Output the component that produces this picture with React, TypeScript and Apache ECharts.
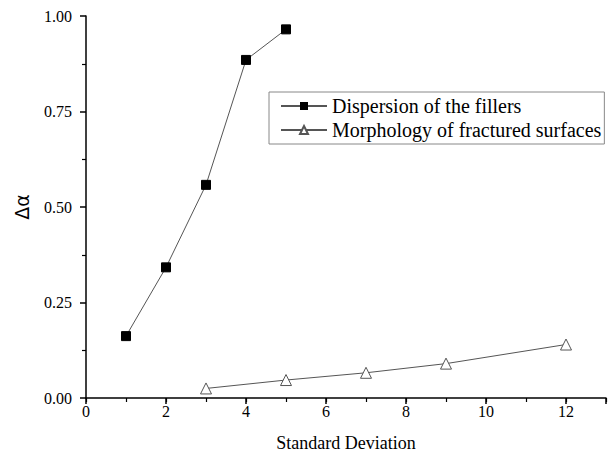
import React, { useEffect, useRef } from "react";
import * as echarts from "echarts";

const dispersionX = [1, 2, 3, 4, 5];
const dispersionY = [0.162, 0.342, 0.558, 0.885, 0.965];
const morphologyX = [3, 5, 7, 9, 12];
const morphologyY = [0.025, 0.047, 0.066, 0.09, 0.14];
const seriesNames = ["Dispersion of the fillers", "Morphology of fractured surfaces"];
const xTitle = "Standard Deviation";
const yTitle = "Δα";

const FONT = "Liberation Serif";

export default function App() {
  const ref = useRef<HTMLDivElement>(null);
  useEffect(() => {
    if (!ref.current) return;
    const chart = echarts.init(ref.current, undefined, { renderer: "svg" });
    chart.setOption({
      animation: false,
      backgroundColor: "#fff",
      textStyle: { fontFamily: FONT },
      grid: { left: 86, right: 7, top: 16, bottom: 60, containLabel: false },
      legend: {
        orient: "vertical",
        left: 269,
        top: 92,
        padding: [4, 3, 4, 11],
        itemGap: 4,
        itemWidth: 46,
        itemHeight: 10,
        borderColor: "#888",
        borderWidth: 1,
        textStyle: { fontFamily: FONT, fontSize: 20, color: "#000" },
        data: seriesNames,
      },
      xAxis: [
        {
          type: "value",
          min: 0,
          max: 13,
          interval: 2,
          axisLine: { show: true, lineStyle: { color: "#000", width: 1.5 } },
          splitLine: { show: false },
          axisTick: { show: true, length: 6, lineStyle: { color: "#000", width: 1.5 } },
          axisLabel: {
            margin: 5,
            fontFamily: FONT,
            fontSize: 16,
            color: "#000",
            formatter: (v: number) => (v === 13 ? "" : String(v)),
          },
          name: xTitle,
          nameLocation: "middle",
          nameGap: 36,
          nameTextStyle: { fontFamily: FONT, fontSize: 18, color: "#000" },
        },
        {
          type: "value",
          min: 0,
          max: 13,
          interval: 1,
          position: "bottom",
          axisLine: { show: false },
          splitLine: { show: false },
          axisTick: { show: true, length: 4, lineStyle: { color: "#000", width: 1.2 } },
          axisLabel: { show: false },
        },
      ],
      yAxis: {
        type: "value",
        min: 0,
        max: 1,
        interval: 0.25,
        axisLine: { show: true, lineStyle: { color: "#000", width: 1.5 } },
        splitLine: { show: false },
        axisTick: { show: true, length: 6, lineStyle: { color: "#000", width: 1.5 } },
        minorTick: { show: true, splitNumber: 2, length: 4, lineStyle: { color: "#000", width: 1.2 } },
        axisLabel: {
          margin: 14,
          fontFamily: FONT,
          fontSize: 16,
          color: "#000",
          formatter: (v: number) => v.toFixed(2),
        },
        name: yTitle,
        nameLocation: "middle",
        nameGap: 55,
        nameRotate: 90,
        nameTextStyle: { fontFamily: "DejaVu Sans", fontSize: 19, color: "#000" },
      },
      series: [
        {
          name: seriesNames[0],
          type: "line",
          data: dispersionX.map((x, i) => [x, dispersionY[i]]),
          symbol: "rect",
          symbolSize: 9,
          lineStyle: { color: "#555", width: 1 },
          itemStyle: { color: "#000", borderColor: "#000" },
        },
        {
          name: seriesNames[1],
          type: "line",
          data: morphologyX.map((x, i) => [x, morphologyY[i]]),
          symbol: "triangle",
          symbolSize: 11,
          showAllSymbol: true,
          lineStyle: { color: "#555", width: 1 },
          itemStyle: { color: "#fff", borderColor: "#555", borderWidth: 1 },
        },
      ],
    });
    return () => chart.dispose();
  }, []);
  return (
    <div
      ref={ref}
      style={{ position: "absolute", left: 0, top: 0, width: 613, height: 458 }}
    />
  );
}
